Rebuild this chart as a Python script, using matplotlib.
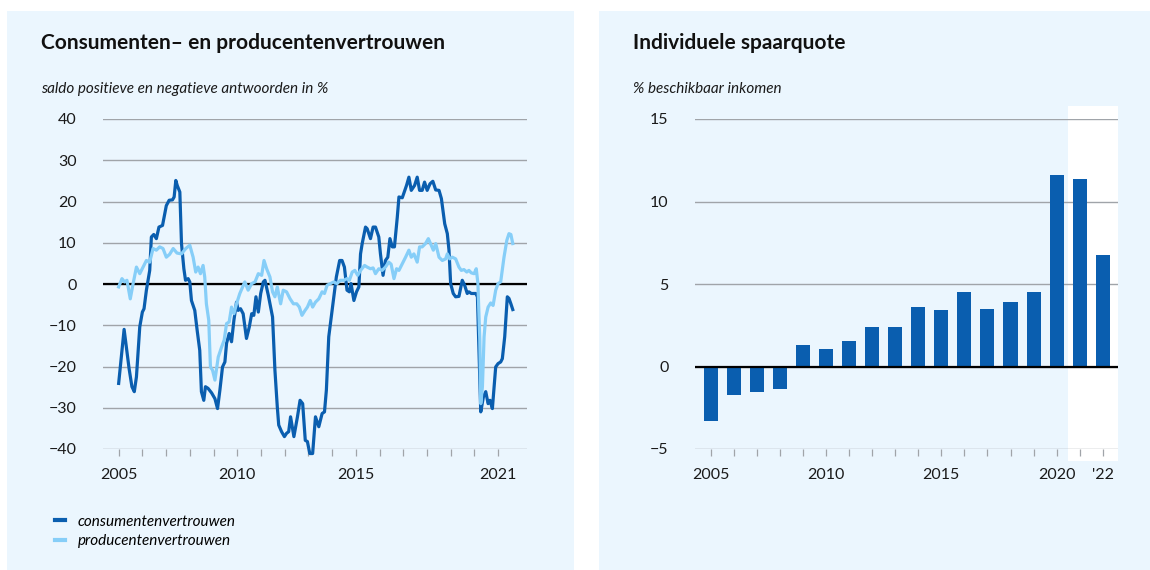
import numpy as np
import matplotlib
matplotlib.use("Agg")
import matplotlib.pyplot as plt
from matplotlib.patches import Rectangle
import matplotlib.transforms as mtransforms

plt.rcParams['font.family'] = ['Lato', 'DejaVu Sans']

# consumentenvertrouwen
cons_x = [2005.00, 2005.23, 2005.44, 2005.56, 2005.66, 2005.75, 2005.89, 2006.00, 2006.07, 2006.17,
          2006.31, 2006.38, 2006.48, 2006.59, 2006.70, 2006.85, 2007.01, 2007.13, 2007.27, 2007.34,
          2007.41, 2007.47, 2007.58, 2007.65, 2007.75, 2007.82, 2007.93, 2008.00, 2008.07, 2008.21,
          2008.31, 2008.42, 2008.49, 2008.59, 2008.66, 2008.77, 2008.92, 2009.06, 2009.17, 2009.27,
          2009.38, 2009.48, 2009.55, 2009.66, 2009.76, 2009.86, 2009.97, 2010.04, 2010.14, 2010.25,
          2010.39, 2010.51, 2010.61, 2010.70, 2010.79, 2010.89, 2010.99, 2011.10, 2011.17, 2011.31,
          2011.49, 2011.59, 2011.69, 2011.75, 2011.87, 2011.99, 2012.08, 2012.17, 2012.25, 2012.39,
          2012.54, 2012.65, 2012.76, 2012.87, 2012.96, 2013.06, 2013.18, 2013.30, 2013.44, 2013.58,
          2013.68, 2013.76, 2013.86, 2014.00, 2014.07, 2014.18, 2014.32, 2014.42, 2014.52, 2014.63,
          2014.73, 2014.80, 2014.92, 2015.03, 2015.13, 2015.20, 2015.27, 2015.41, 2015.48, 2015.62,
          2015.73, 2015.83, 2015.97, 2016.04, 2016.15, 2016.25, 2016.35, 2016.44, 2016.54, 2016.63,
          2016.75, 2016.82, 2016.96, 2017.14, 2017.24, 2017.34, 2017.48, 2017.59, 2017.69, 2017.80,
          2017.90, 2018.01, 2018.13, 2018.25, 2018.37, 2018.51, 2018.61, 2018.75, 2018.86, 2018.93,
          2019.00, 2019.11, 2019.21, 2019.35, 2019.49, 2019.59, 2019.70, 2019.77, 2019.87, 2020.06,
          2020.13, 2020.27, 2020.38, 2020.48, 2020.58, 2020.66, 2020.76, 2020.90, 2021.00, 2021.11,
          2021.18, 2021.28, 2021.39, 2021.46, 2021.54, 2021.62]
cons_y = [-24.1, -11.0, -20.5, -24.9, -26.1, -22.5, -10.4, -6.8, -6.0, -1.5,
          3.3, 11.4, 12.0, 11.0, 13.8, 14.2, 19.0, 20.3, 20.4, 21.1,
          25.1, 23.9, 22.3, 9.8, 3.7, 0.9, 1.3, 0.5, -4.0, -6.4,
          -11.2, -16.1, -26.1, -28.2, -24.9, -25.3, -26.4, -27.8, -30.2, -25.7,
          -20.1, -18.9, -14.4, -12.0, -14.0, -8.8, -4.4, -6.4, -6.0, -7.2,
          -13.2, -10.4, -7.2, -7.6, -3.1, -6.8, -2.3, 0.5, 0.9, -2.7,
          -8.0, -20.9, -29.8, -34.2, -35.8, -37.0, -36.2, -35.8, -32.2, -37.0,
          -32.2, -28.2, -29.0, -37.9, -38.2, -41.1, -41.1, -32.2, -34.6, -31.4,
          -31.0, -25.7, -12.8, -6.4, -3.1, 1.7, 5.7, 5.7, 4.1, -1.5,
          -1.9, 0.1, -4.0, -1.9, -0.7, 7.3, 9.8, 13.8, 13.4, 11.0,
          13.8, 13.8, 11.4, 7.3, 2.1, 5.7, 6.5, 11.0, 9.0, 9.0,
          16.2, 21.1, 20.9, 23.9, 25.9, 22.7, 23.9, 25.9, 22.7, 22.7,
          24.7, 22.7, 24.3, 24.9, 22.8, 22.7, 20.7, 14.6, 12.2, 8.2,
          0.1, -2.3, -3.1, -3.0, 0.9, -0.3, -2.3, -1.9, -2.3, -2.3,
          -3.1, -31.0, -27.4, -26.1, -29.0, -28.2, -30.2, -20.1, -19.3, -18.9,
          -18.1, -12.8, -3.1, -3.5, -4.8, -6.2]

# producentenvertrouwen
prod_x = [2005.00, 2005.14, 2005.25, 2005.35, 2005.49, 2005.61, 2005.75, 2005.89, 2006.03, 2006.17,
          2006.31, 2006.45, 2006.59, 2006.73, 2006.87, 2007.01, 2007.15, 2007.30, 2007.46, 2007.65,
          2007.83, 2008.00, 2008.14, 2008.25, 2008.35, 2008.45, 2008.56, 2008.63, 2008.70, 2008.80,
          2008.87, 2008.96, 2009.06, 2009.20, 2009.34, 2009.45, 2009.55, 2009.66, 2009.76, 2009.86,
          2009.97, 2010.11, 2010.32, 2010.46, 2010.61, 2010.75, 2010.89, 2011.03, 2011.13, 2011.24,
          2011.38, 2011.49, 2011.59, 2011.69, 2011.83, 2011.94, 2012.08, 2012.23, 2012.37, 2012.51,
          2012.62, 2012.73, 2012.86, 2012.96, 2013.08, 2013.18, 2013.30, 2013.44, 2013.58, 2013.68,
          2013.79, 2013.93, 2014.07, 2014.21, 2014.35, 2014.49, 2014.63, 2014.73, 2014.85, 2014.96,
          2015.08, 2015.20, 2015.37, 2015.48, 2015.62, 2015.73, 2015.83, 2015.97, 2016.11, 2016.25,
          2016.39, 2016.49, 2016.61, 2016.72, 2016.82, 2016.96, 2017.10, 2017.24, 2017.34, 2017.45,
          2017.59, 2017.69, 2017.80, 2017.94, 2018.06, 2018.15, 2018.27, 2018.37, 2018.51, 2018.65,
          2018.79, 2018.86, 2018.96, 2019.07, 2019.21, 2019.35, 2019.45, 2019.56, 2019.68, 2019.77,
          2019.87, 2019.99, 2020.08, 2020.15, 2020.23, 2020.27, 2020.34, 2020.41, 2020.48, 2020.58,
          2020.69, 2020.79, 2020.90, 2021.00, 2021.11, 2021.25, 2021.37, 2021.46, 2021.54, 2021.62]
prod_y = [-0.7, 1.3, 0.5, 0.9, -3.6, 0.1, 4.1, 2.5, 4.1, 5.7,
          5.3, 8.6, 8.2, 9.0, 8.6, 6.5, 7.2, 8.6, 7.5, 7.3,
          8.6, 9.4, 6.5, 2.9, 4.1, 2.5, 4.5, 1.7, -4.8, -8.8,
          -20.1, -20.9, -23.3, -17.7, -15.3, -13.6, -9.6, -9.2, -5.6, -7.2,
          -4.8, -2.3, 0.5, -1.5, 0.1, 0.5, 2.5, 2.1, 5.7, 3.7,
          1.7, -1.9, -3.1, -0.7, -4.8, -1.5, -1.9, -3.6, -4.8, -4.8,
          -5.6, -7.6, -6.4, -5.6, -4.0, -5.6, -4.4, -3.6, -1.9, -2.3,
          -0.3, 0.1, 0.5, 0.1, 0.9, 0.9, 1.3, 0.9, 2.9, 3.3,
          2.1, 3.3, 4.5, 4.1, 3.7, 3.9, 2.5, 3.7, 3.3, 4.1,
          5.3, 4.8, 1.3, 3.7, 3.3, 4.9, 6.5, 8.2, 6.5, 7.3,
          5.3, 9.0, 9.0, 9.8, 11.0, 9.8, 8.2, 9.8, 6.5, 5.7,
          6.1, 7.3, 6.1, 6.5, 6.1, 4.1, 3.3, 3.5, 2.9, 3.3,
          2.7, 2.5, 3.7, 0.1, -13.6, -29.0, -24.9, -12.8, -8.0, -5.6,
          -4.6, -5.2, -1.5, 0.1, 0.5, 6.5, 10.6, 12.2, 12.0, 9.8]

# individuele spaarquote
years = np.arange(2005, 2023)
spaarquote = [-3.3, -1.7, -1.55, -1.37, 1.33, 1.07, 1.55, 2.42, 2.38, 3.61,
              3.43, 4.5, 3.47, 3.93, 4.5, 11.6, 11.37, 6.77]

left_ticks = [2005, 2010, 2015, 2021]
right_ticks = [2005, 2010, 2015, 2020, 2022]
right_labels = ['2005', '2010', '2015', '2020', "'22"]

dark = '#0A5EAF'
light = '#86CEF8'
panel = '#EBF6FE'
grid = '#A0A4A9'

W, H = 1150, 570
fig = plt.figure(figsize=(W / 100, H / 100), dpi=100)
fig.patch.set_facecolor('white')

def px(x0, y0, x1, y1):
    # pixel box (top-left origin) -> figure fraction rect
    return [x0 / W, 1 - y1 / H, (x1 - x0) / W, (y1 - y0) / H]

for x0, x1 in [(7, 574), (599, 1150)]:
    r = px(x0, 11, x1, 570)
    fig.patches.append(Rectangle((r[0], r[1]), r[2], r[3], transform=fig.transFigure,
                                 facecolor=panel, edgecolor='none', zorder=-5))

def style(ax):
    ax.set_facecolor('none')
    for s in ax.spines.values():
        s.set_visible(False)
    ax.yaxis.grid(True, color=grid, lw=1.0)
    ax.set_axisbelow(True)
    ax.tick_params(axis='y', length=0, pad=19, labelsize=11.5, labelcolor='#1a1a1a')
    ax.tick_params(axis='x', length=5, width=0.9, color=grid, pad=9, labelsize=11.5,
                   labelcolor='#1a1a1a')

# left chart
ax1 = fig.add_axes(px(103, 119, 527, 449))
style(ax1)
ax1.set_xlim(2004.34, 2022.22)
ax1.set_ylim(-40, 40)
ax1.set_yticks(range(-40, 41, 10))
ax1.set_yticklabels([str(v).replace('-', '\u2212') for v in range(-40, 41, 10)])
ax1.set_xticks(range(2005, 2022))
ax1.set_xticklabels([str(y) if y in left_ticks else '' for y in range(2005, 2022)])
ax1.axhline(0, color='black', lw=1.6, zorder=2)
ax1.plot(cons_x, cons_y, color=dark, lw=2.3, zorder=3, clip_on=False,
         solid_joinstyle='round', label='consumentenvertrouwen')
ax1.plot(prod_x, prod_y, color=light, lw=2.3, zorder=4, clip_on=False,
         solid_joinstyle='round', label='producentenvertrouwen')

fig.text(41 / W, 1 - 43 / H, 'Consumenten\u2013 en producentenvertrouwen', fontsize=15,
         fontweight='bold', va='center', ha='left', color='#111111')
fig.text(41 / W, 1 - 89 / H, 'saldo positieve en negatieve antwoorden in %', fontsize=11,
         style='italic', va='center', ha='left', color='#1a1a1a')

leg = ax1.legend(loc='upper left', bbox_to_anchor=(47 / W, 1 - 507 / H),
                 bbox_transform=fig.transFigure, frameon=False, fontsize=11,
                 handlelength=0.65, handletextpad=0.85, labelspacing=0.35, borderpad=0)
for t in leg.get_texts():
    t.set_fontstyle('italic')
for l in leg.get_lines():
    l.set_linewidth(3)

# right chart
ax2 = fig.add_axes(px(695, 119, 1118, 449))
style(ax2)
ax2.set_xlim(2004.32, 2022.66)
ax2.set_ylim(-5, 15)
ax2.set_yticks([-5, 0, 5, 10, 15])
ax2.set_yticklabels(['\u22125', '0', '5', '10', '15'])
ax2.set_xticks(years)
ax2.set_xticklabels([right_labels[right_ticks.index(y)] if y in right_ticks else '' for y in years])
trans = mtransforms.blended_transform_factory(ax2.transData, ax2.transAxes)
ax2.add_patch(Rectangle((2020.5, -0.036), 2022.66 - 2020.5, 1.075, transform=trans,
                        facecolor='white', edgecolor='none', zorder=0, clip_on=False))
ax2.bar(years, spaarquote, width=0.61, color=dark, zorder=2)
ax2.axhline(0, color='black', lw=1.6, zorder=3)

fig.text(633 / W, 1 - 43 / H, 'Individuele spaarquote', fontsize=15,
         fontweight='bold', va='center', ha='left', color='#111111')
fig.text(633 / W, 1 - 89 / H, '% beschikbaar inkomen', fontsize=11,
         style='italic', va='center', ha='left', color='#1a1a1a')

fig.savefig('out.png', dpi=100, facecolor=fig.get_facecolor())
